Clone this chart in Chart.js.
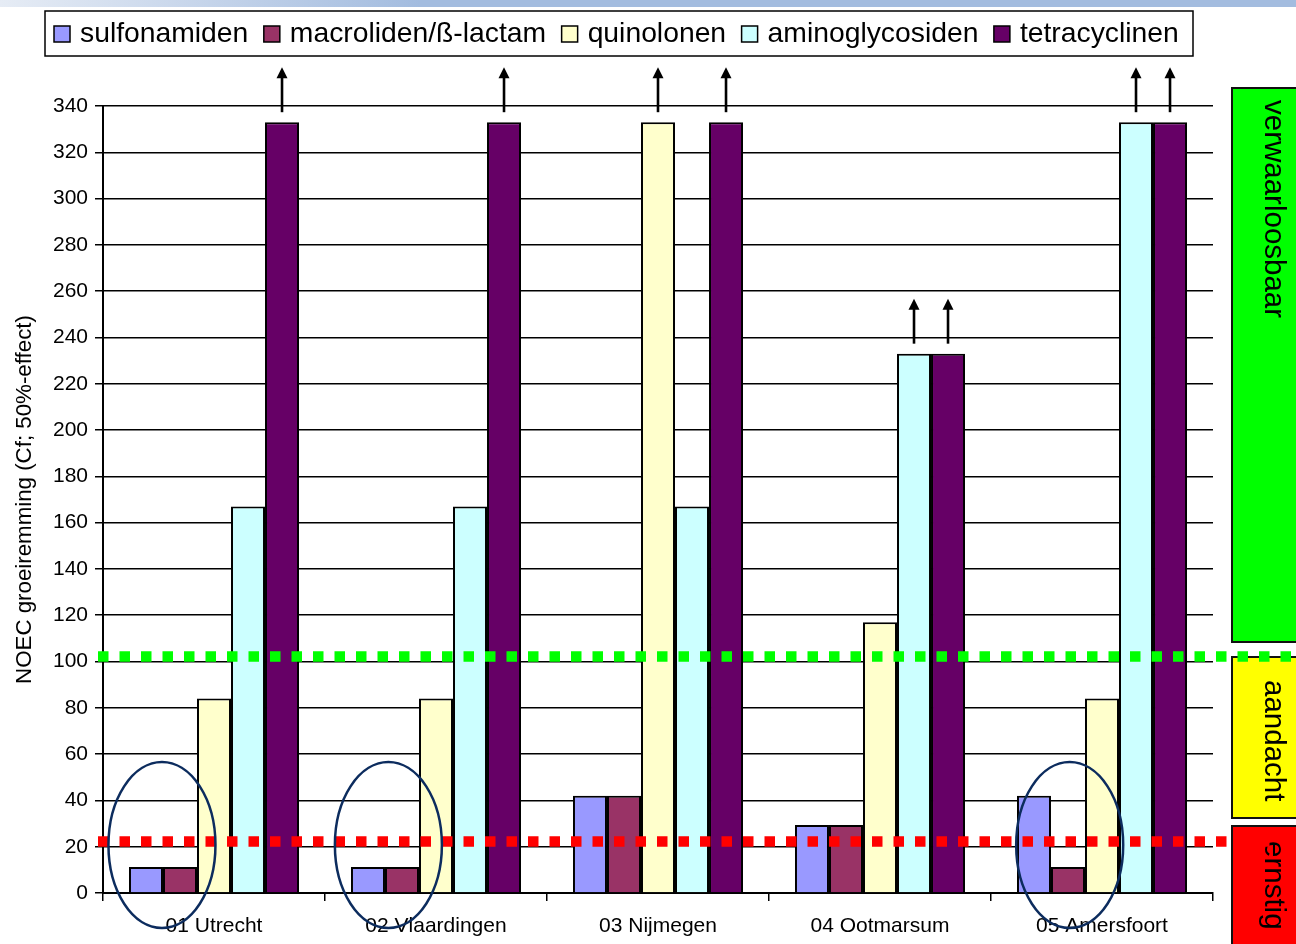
<!DOCTYPE html>
<html>
<head>
<meta charset="utf-8">
<title>NOEC groeiremming per locatie</title>
<script src="https://cdn.jsdelivr.net/npm/chart.js@4/dist/chart.umd.min.js"></script>
<style>
  html, body { margin: 0; padding: 0; background: #ffffff; }
  #wrap { width: 1296px; height: 944px; }
</style>
</head>
<body>
<div id="wrap"><canvas id="c" width="1296" height="944"></canvas></div>
<script>
// Locations (categories)
const locations = ['01 Utrecht', '02 Vlaardingen', '03 Nijmegen', '04 Ootmarsum', '05 Amersfoort'];

// NOEC values per antibiotic group
const sulfonamiden  = [11.2, 11.2, 42, 29.4, 42];
const macroliden    = [11.2, 11.2, 42, 29.4, 11.2];
const quinolonen    = [84, 84, 333, 117, 84];
const aminoglycosiden = [167, 167, 167, 233, 333];
const tetracyclinen = [333, 333, 333, 233, 333];

const seriesNames = ['sulfonamiden', 'macroliden/\u00DF-lactam', 'quinolonen', 'aminoglycosiden', 'tetracyclinen'];
const seriesColors = ['#9999FF', '#993366', '#FFFFCC', '#CCFFFF', '#660066'];

// Bars whose true value lies above the tested range: [series, location]
const aboveRange = [[4, 0], [4, 1], [2, 2], [4, 2], [3, 3], [4, 3], [3, 4], [4, 4]];

// Circled sulfonamiden/macroliden pairs: location and centre (in bar slots)
const circledLocations = [0, 1, 4];
const circledSlots = [0.47, 0.6, 1.05];
const circleLevel = 20.7;

// Threshold levels (dotted lines)
const thresholdLevels = [102.2, 22.2];
const thresholdColors = ['#00FF00', '#FF0000'];

// Assessment zones shown at the right
const zoneLabels = ['verwaarloosbaar', 'aandacht', 'ernstig'];
const zoneColors = ['#00FF00', '#FFFF00', '#FF0000'];

const yTicksMin = 0, yTicksMax = 340, yTickStep = 20;

const FONT = "'Liberation Sans', Arial, Helvetica, sans-serif";
const seriesData = [sulfonamiden, macroliden, quinolonen, aminoglycosiden, tetracyclinen];

const decorations = {
  id: 'decorations',
  beforeDraw(chart) {
    const ctx = chart.ctx;
    ctx.save();
    ctx.fillStyle = '#ffffff';
    ctx.fillRect(0, 0, chart.width, chart.height);
    // slide header band
    const g = ctx.createLinearGradient(0, 0, 420, 0);
    g.addColorStop(0, '#e6ecf5');
    g.addColorStop(1, '#a3bcdf');
    ctx.fillStyle = g;
    ctx.fillRect(0, 0, chart.width, 7);
    ctx.restore();
  },
  afterDatasetsDraw(chart) {
    const ctx = chart.ctx;
    ctx.save();
    // arrows above bars that exceed the tested range
    ctx.strokeStyle = '#000';
    ctx.fillStyle = '#000';
    ctx.lineWidth = 2.6;
    aboveRange.forEach(([di, ci]) => {
      const bar = chart.getDatasetMeta(di).data[ci];
      const x = bar.x;
      const y0 = bar.y - 10;
      const y1 = bar.y - 55;
      ctx.beginPath();
      ctx.moveTo(x, y0);
      ctx.lineTo(x, y1 + 8);
      ctx.stroke();
      ctx.beginPath();
      ctx.moveTo(x, y1);
      ctx.lineTo(x - 5.5, y1 + 11);
      ctx.lineTo(x + 5.5, y1 + 11);
      ctx.closePath();
      ctx.fill();
    });
    ctx.restore();
  },
  afterDraw(chart) {
    const ctx = chart.ctx;
    const yS = chart.scales.y;
    ctx.save();

    // zone boxes at the right
    const boxes = [[88, 642], [657, 818], [826, 950]];
    const textStart = [100, 680, 841];
    boxes.forEach(([t, b], i) => {
      ctx.fillStyle = zoneColors[i];
      ctx.fillRect(1232, t, 70, b - t);
      ctx.strokeStyle = '#111';
      ctx.lineWidth = 2;
      ctx.strokeRect(1232, t, 70, b - t);
      ctx.save();
      ctx.translate(1265, textStart[i]);
      ctx.rotate(Math.PI / 2);
      ctx.fillStyle = '#000';
      ctx.font = '29.5px ' + FONT;
      ctx.textAlign = 'left';
      ctx.textBaseline = 'alphabetic';
      ctx.fillText(zoneLabels[i], 0, 0);
      ctx.restore();
    });

    // dotted threshold lines
    thresholdLevels.forEach((v, i) => {
      const y = yS.getPixelForValue(v);
      ctx.strokeStyle = thresholdColors[i];
      ctx.lineWidth = 10.5;
      ctx.lineCap = 'butt';
      ctx.setLineDash([10.5, 11]);
      ctx.beginPath();
      ctx.moveTo(98, y);
      ctx.lineTo(chart.width + 10, y);
      ctx.stroke();
    });
    ctx.setLineDash([]);

    // ellipses around low sulfonamiden/macroliden values
    ctx.strokeStyle = '#0c2c5e';
    ctx.lineWidth = 2.5;
    circledLocations.forEach((ci, k) => {
      const b0 = chart.getDatasetMeta(0).data[ci];
      const b1 = chart.getDatasetMeta(1).data[ci];
      const slotW = b1.x - b0.x;
      const cx = b0.x + circledSlots[k] * slotW;
      const cy = yS.getPixelForValue(circleLevel);
      ctx.beginPath();
      ctx.ellipse(cx, cy, 53.5, 83, 0, 0, Math.PI * 2);
      ctx.stroke();
    });

    // legend box
    ctx.fillStyle = '#fff';
    ctx.fillRect(45, 11, 1148, 45);
    ctx.strokeStyle = '#000';
    ctx.lineWidth = 1.5;
    ctx.strokeRect(45, 11, 1148, 45);
    ctx.font = '28.3px ' + FONT;
    ctx.textBaseline = 'middle';
    ctx.textAlign = 'left';
    let x = 54;
    chart.data.datasets.forEach((ds) => {
      ctx.fillStyle = ds.backgroundColor;
      ctx.fillRect(x, 26, 16, 16);
      ctx.strokeStyle = '#000';
      ctx.lineWidth = 1.5;
      ctx.strokeRect(x, 26, 16, 16);
      ctx.fillStyle = '#000';
      ctx.fillText(ds.label, x + 26, 34);
      x += 26 + ctx.measureText(ds.label).width + 15.5;
    });
    ctx.restore();
  }
};

new Chart(document.getElementById('c'), {
  type: 'bar',
  data: {
    labels: locations,
    datasets: seriesNames.map((name, i) => ({
      label: name,
      data: seriesData[i],
      backgroundColor: seriesColors[i],
      borderColor: '#000',
      borderWidth: 2,
      categoryPercentage: 0.766,
      barPercentage: 1.0
    }))
  },
  options: {
    responsive: false,
    devicePixelRatio: 1,
    animation: false,
    layout: { padding: { left: 0, top: 106, right: 83, bottom: 0 } },
    plugins: {
      legend: { display: false },
      tooltip: { enabled: false }
    },
    scales: {
      x: {
        grid: { offset: true, drawOnChartArea: false, color: '#000', lineWidth: 1.5, tickLength: 8 },
        border: { color: '#000', width: 2 },
        ticks: { color: '#000', font: { family: FONT, size: 21 }, padding: 13, maxRotation: 0 },
        afterFit(scale) { scale.height = 51; }
      },
      y: {
        min: yTicksMin,
        max: yTicksMax,
        grid: { color: '#000', lineWidth: 1.5, tickLength: 8 },
        border: { color: '#000', width: 2 },
        ticks: { stepSize: yTickStep, color: '#000', font: { family: FONT, size: 21 }, padding: 7 },
        title: {
          display: true,
          text: 'NOEC groeiremming (Cf; 50%-effect)',
          color: '#000',
          font: { family: FONT, size: 22.3 },
          padding: { top: 11, bottom: 0 }
        },
        afterFit(scale) { scale.width = 103; }
      }
    }
  },
  plugins: [decorations]
});
</script>
</body>
</html>
